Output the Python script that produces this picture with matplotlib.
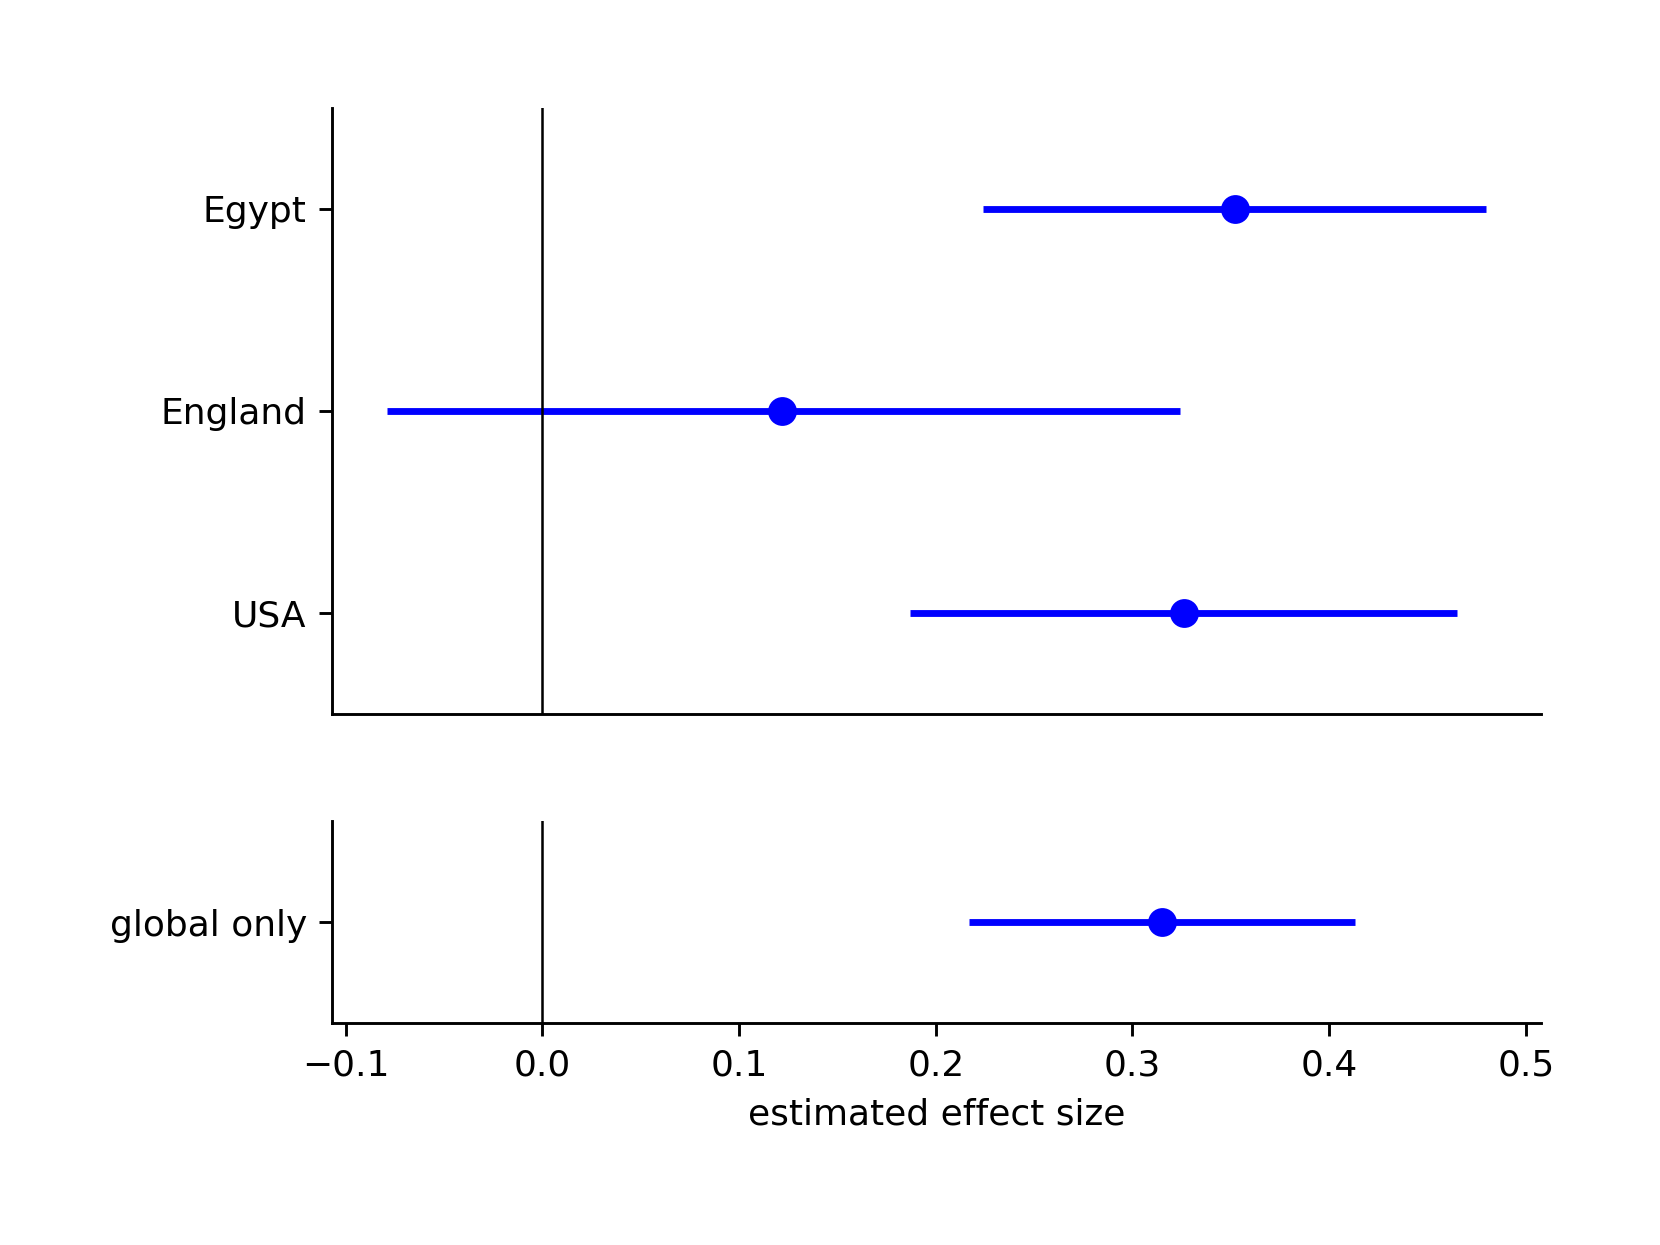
import numpy as np
import matplotlib
matplotlib.use('Agg')
import matplotlib.pyplot as plt

# per-country estimates and 95% intervals
countries = ['USA', 'England', 'Egypt']
est = [0.326, 0.122, 0.352]
lo = [0.187, -0.079, 0.224]
hi = [0.465, 0.324, 0.480]

# global-only model
global_label = ['global only']
global_est = [0.315]
global_lo = [0.217]
global_hi = [0.413]

fig, (ax1, ax2) = plt.subplots(2, 1, sharex=True, figsize=(6.4, 4.8),
                               gridspec_kw={'height_ratios': [3, 1]})
fig.subplots_adjust(left=0.2, right=0.9286, top=0.9135, bottom=0.178, hspace=0.267)

y = np.arange(len(countries))
ax1.hlines(y, lo, hi, color='blue', lw=1.9)
ax1.plot(est, y, 'o', color='blue', ms=7)
ax1.axvline(0, color='black', lw=0.7)
ax1.set_yticks(y)
ax1.set_yticklabels(countries)
ax1.set_ylim(-0.5, 2.5)
ax1.tick_params(axis='x', bottom=False)

yg = np.arange(len(global_label))
ax2.hlines(yg, global_lo, global_hi, color='blue', lw=1.9)
ax2.plot(global_est, yg, 'o', color='blue', ms=7)
ax2.axvline(0, color='black', lw=0.7)
ax2.set_yticks(yg)
ax2.set_yticklabels(global_label)
ax2.set_ylim(-0.5, 0.5)
ax2.set_xlabel('estimated effect size')

for ax in (ax1, ax2):
    ax.spines['top'].set_visible(False)
    ax.spines['right'].set_visible(False)

fig.savefig('out.png', dpi=259.375)
